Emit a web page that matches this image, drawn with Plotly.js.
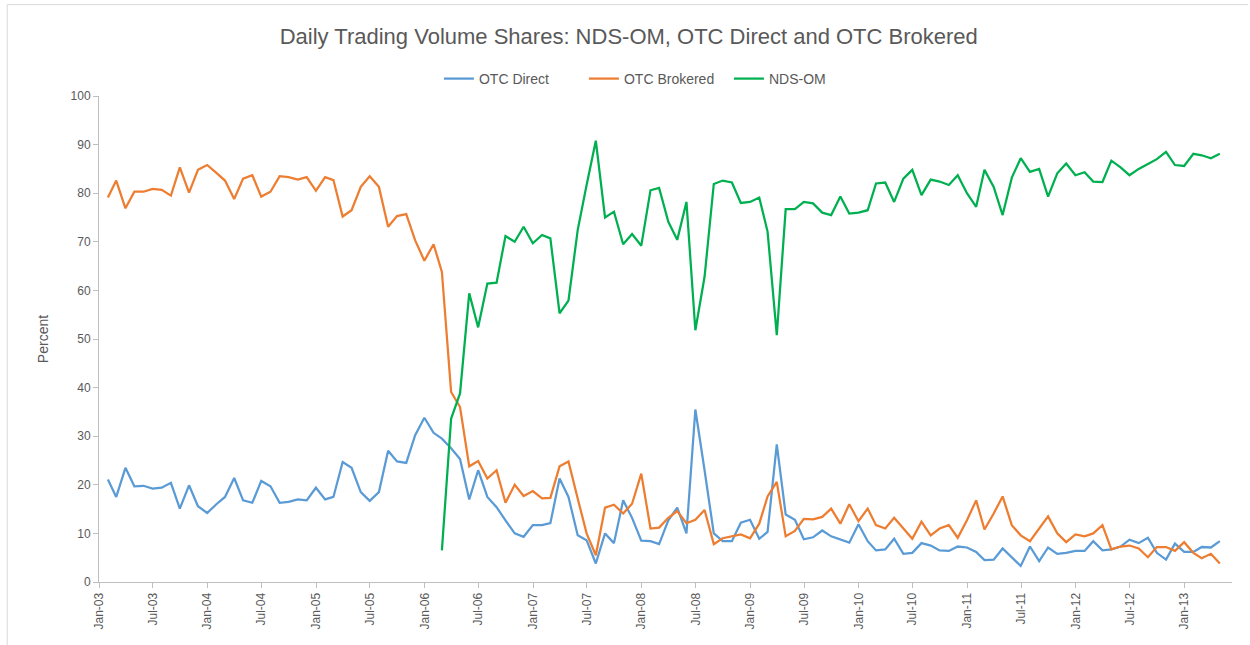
<!DOCTYPE html>
<html>
<head>
<meta charset="utf-8">
<script src="https://cdn.plot.ly/plotly-3.0.1.min.js"></script>
<style>
  html, body { margin: 0; padding: 0; background: #ffffff; }
  #chart { width: 1250px; height: 645px; }
</style>
</head>
<body>
<div id="chart"></div>
<script>
// Monthly observations, Jan-2003 .. Apr-2013 (plotted at month end)
const firstYear = 2003, firstMonth = 1, monthCount = 124;

const otcDirect = [
  21.1, 17.5, 23.5, 19.7, 19.8, 19.2, 19.4, 20.4, 15.1, 19.9, 15.6, 14.2, 16.0, 17.5,
  21.4, 16.8, 16.3, 20.8, 19.7, 16.3, 16.5, 17.0, 16.8, 19.4, 17.0, 17.5, 24.7, 23.5,
  18.5, 16.7, 18.5, 27.0, 24.8, 24.5, 30.2, 33.8, 30.7,
  29.5, 27.5, 25.3, 17.0, 23.0, 17.5, 15.4, 12.7, 10.0, 9.3, 11.7, 11.7, 12.1, 21.3, 17.5, 9.6, 8.6, 3.8,
  10.0, 8.0, 16.8, 13.2, 8.5, 8.4, 7.8, 12.7, 15.3, 10.0, 35.5, 23.0, 10.0, 8.4,
  8.4, 12.2, 12.8, 8.9, 10.3, 28.3, 13.9, 12.8, 8.8, 9.2, 10.6, 9.4, 8.7,
  8.1, 11.9, 8.4, 6.5, 6.7, 8.9, 5.8, 6.0, 8.0, 7.5, 6.5, 6.4, 7.3, 7.1,
  6.2, 4.5, 4.6, 6.9, 5.1, 3.3, 7.3, 4.3, 7.1, 5.8, 6.0, 6.4, 6.4, 8.4,
  6.5, 6.7, 7.3, 8.7, 8.0, 9.1, 6.0, 4.6, 7.9, 6.2, 6.2, 7.2, 7.1, 8.4
];

const otcBrokered = [
  79.1, 82.6, 76.9, 80.3, 80.3, 80.9, 80.7, 79.5, 85.3, 80.1, 84.8, 85.8, 84.2, 82.6,
  78.8, 83.0, 83.7, 79.3, 80.3, 83.5, 83.3, 82.8, 83.3, 80.5, 83.3, 82.7, 75.2, 76.5,
  81.3, 83.5, 81.3, 73.1, 75.3, 75.7, 70.3, 66.1, 69.5,
  63.8, 39.1, 36.0, 23.8, 24.9, 21.3, 23.0, 16.3, 20.0, 17.7, 18.7, 17.2, 17.3, 23.8, 24.8, 17.2, 10.0, 5.5,
  15.3, 15.9, 14.1, 16.1, 22.3, 11.0, 11.2, 13.2, 14.6, 12.1, 12.8, 14.8, 7.8, 9.0,
  9.4, 9.8, 9.0, 12.0, 17.6, 20.6, 9.4, 10.5, 13.0, 12.9, 13.4, 15.1, 12.0,
  16.0, 12.5, 15.1, 11.7, 11.0, 13.2, 11.0, 8.9, 12.4, 9.6, 11.0, 11.7, 9.1, 12.7,
  16.8, 10.8, 14.1, 17.6, 11.7, 9.6, 8.4, 11.0, 13.5, 10.0, 8.2, 9.8, 9.4, 10.0,
  11.7, 6.7, 7.3, 7.5, 6.9, 5.1, 7.2, 7.2, 6.4, 8.2, 6.0, 4.9, 5.8, 3.8
];

// NDS-OM begins Feb-2006 (first 37 months have no value)
const ndsOmLeadingGaps = 37;
const ndsOm = [
  6.5, 33.6, 38.8, 59.4, 52.4, 61.4, 61.6, 71.2, 70.0, 73.1, 69.7, 71.4, 70.7, 55.3, 57.9, 72.4, 81.7, 90.8,
  75.0, 76.2, 69.5, 71.6, 69.2, 80.6, 81.1, 74.1, 70.4, 78.2, 51.8, 62.8, 81.9, 82.6,
  82.2, 78.0, 78.2, 79.1, 72.1, 50.8, 76.7, 76.7, 78.2, 77.9, 76.0, 75.5, 79.3,
  75.8, 76.0, 76.5, 82.0, 82.2, 78.2, 83.0, 84.8, 79.6, 82.8, 82.4, 81.7, 83.7, 80.0,
  77.2, 84.8, 81.3, 75.5, 83.2, 87.2, 84.4, 85.0, 79.3, 84.1, 86.1, 83.7, 84.3, 82.4,
  82.3, 86.7, 85.3, 83.7, 85.0, 86.0, 87.0, 88.5, 85.8, 85.6, 88.1, 87.8, 87.2, 88.1
];

// build month-end date categories
const months = [];
for (let k = 0; k < monthCount; k++) {
  const m0 = firstMonth - 1 + k;
  const y = firstYear + Math.floor(m0 / 12);
  const m = (m0 % 12) + 1;
  const last = new Date(Date.UTC(y, m, 0)).getUTCDate();
  months.push(y + '-' + String(m).padStart(2, '0') + '-' + String(last).padStart(2, '0'));
}
const ndsFull = new Array(ndsOmLeadingGaps).fill(null).concat(ndsOm);

const grey = '#595959';
const fontFam = '"Liberation Sans", Arial, sans-serif';

const traces = [
  { x: months, y: otcDirect, name: 'OTC Direct', type: 'scatter', mode: 'lines',
    line: { color: '#5B9BD5', width: 2.25 } },
  { x: months, y: otcBrokered, name: 'OTC Brokered', type: 'scatter', mode: 'lines',
    line: { color: '#ED7D31', width: 2.25 } },
  { x: months, y: ndsFull, name: 'NDS-OM', type: 'scatter', mode: 'lines',
    line: { color: '#00B050', width: 2.25 }, connectgaps: false }
];

const layout = {
  width: 1250, height: 645,
  margin: { l: 99, r: 18, t: 96, b: 63 },
  paper_bgcolor: '#ffffff', plot_bgcolor: '#ffffff',
  font: { family: fontFam, color: grey, size: 12 },
  title: {
    text: 'Daily Trading Volume Shares: NDS-OM, OTC Direct and OTC Brokered',
    font: { family: fontFam, size: 22, color: grey },
    x: 0.503, xanchor: 'center', y: 0.943, yanchor: 'middle'
  },
  showlegend: true,
  legend: {
    orientation: 'h', x: 0.492, xanchor: 'center', y: 1.035, yanchor: 'middle',
    font: { family: fontFam, size: 14, color: grey },
    itemwidth: 30, traceorder: 'normal', entrywidth: 100, entrywidthmode: 'pixels'
  },
  xaxis: {
    type: 'date',
    range: ['2003-01-01', '2013-06-10'],
    tick0: '2003-01-01', dtick: 'M6', tickformat: '%b-%y',
    tickangle: -90,
    ticks: 'outside', ticklen: 5, tickcolor: '#bfbfbf', tickwidth: 1,
    showline: true, linecolor: '#bfbfbf', linewidth: 1,
    showgrid: false, zeroline: false,
    tickfont: { family: fontFam, size: 12, color: grey }
  },
  yaxis: {
    range: [0, 100], dtick: 10, tick0: 0,
    ticks: 'outside', ticklen: 5, tickcolor: '#bfbfbf', tickwidth: 1,
    showline: true, linecolor: '#bfbfbf', linewidth: 1,
    showgrid: false, zeroline: false,
    tickfont: { family: fontFam, size: 12, color: grey },
    title: { text: 'Percent', font: { family: fontFam, size: 14, color: grey }, standoff: 18 }
  },
  shapes: [
    { type: 'line', xref: 'paper', yref: 'paper', x0: -0.081, x1: 1.014, y0: 1.188, y1: 1.188,
      line: { color: '#d9d9d9', width: 1 } },
    { type: 'line', xref: 'paper', yref: 'paper', x0: -0.081, x1: -0.081, y0: 1.188, y1: -0.2,
      line: { color: '#d9d9d9', width: 1 } }
  ]
};

Plotly.newPlot('chart', traces, layout, { displayModeBar: false, staticPlot: true });
</script>
</body>
</html>
